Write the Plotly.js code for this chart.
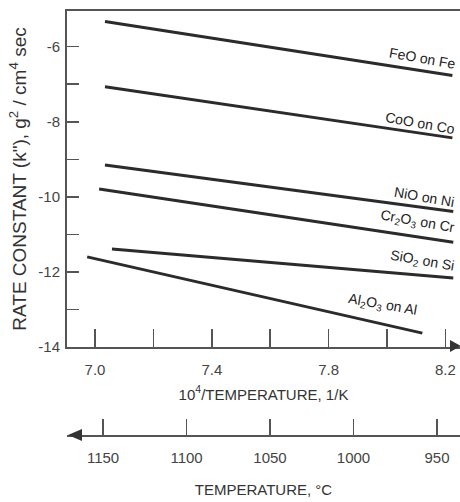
<!DOCTYPE html>
<html>
<head>
<meta charset="utf-8">
<script src="https://cdn.plot.ly/plotly-3.0.1.min.js"></script>
<style>html,body{margin:0;padding:0;background:#fff;}#chart{width:460px;height:502px;}</style>
</head>
<body>
<div id="chart"></div>
<script>
// Series (oxide on metal): straight lines, start/end points
const seriesNames = ['FeO on Fe', 'CoO on Co', 'NiO on Ni', 'Cr<sub>2</sub>O<sub>3</sub> on Cr', 'SiO<sub>2</sub> on Si', 'Al<sub>2</sub>O<sub>3</sub> on Al'];
const xStart = [7.034, 7.034, 7.034, 7.014, 7.058, 6.973];
const xEnd   = [8.224, 8.224, 8.227, 8.227, 8.227, 8.121];
const yStart = [-5.33, -7.07, -9.15, -9.79, -11.39, -11.6];
const yEnd   = [-6.77, -8.43, -10.39, -11.21, -12.16, -13.63];
// label anchor positions (data coords)
const labelX = [8.12, 8.113, 8.13, 8.106, 8.12, 7.986];
const labelY = [-6.29, -8.03, -10.0, -10.67, -11.71, -12.88];

// Axis ticks
const yTickVals = [-14, -13, -12, -11, -10, -9, -8, -7, -6];
const yTickText = ['-14', '', '-12', '', '-10', '', '-8', '', '-6'];
const xTickVals = [7.0, 7.2, 7.4, 7.6, 7.8, 8.0, 8.2];
const xTickText = ['7.0', '', '7.4', '', '7.8', '', '8.2'];
const tTickVals = [1150, 1100, 1050, 1000, 950];
const tTickText = ['1150', '1100', '1050', '1000', '950'];

const FONT = 'Liberation Sans, Arial, sans-serif';
const LINEC = '#2b2b2b';
const AXC = '#555';

const traces = seriesNames.map((n, i) => ({
  type: 'scatter', mode: 'lines',
  x: [xStart[i], xEnd[i]], y: [yStart[i], yEnd[i]],
  line: {color: LINEC, width: 3}, name: n, hoverinfo: 'skip',
  xaxis: 'x', yaxis: 'y'
}));
// invisible trace to create the second (temperature) axis
traces.push({type: 'scatter', mode: 'markers', x: [tTickVals[0]], y: [0], xaxis: 'x2', yaxis: 'y2',
  marker: {opacity: 0}, hoverinfo: 'skip', showlegend: false});

const annotations = seriesNames.map((n, i) => ({
  x: labelX[i], y: labelY[i], xref: 'x', yref: 'y', text: n, showarrow: false,
  textangle: 10, font: {family: FONT, size: 14, color: '#222'}
}));

const pX = px => (px - 67) / 393;
const pY = py => (435 - py) / 424;

const shapes = [
  {type: 'path', xref: 'paper', yref: 'paper', fillcolor: '#333', line: {width: 0},
   path: `M ${pX(461)},${pY(346)} L ${pX(450)},${pY(340)} L ${pX(450)},${pY(352)} Z`},
  {type: 'path', xref: 'paper', yref: 'paper', fillcolor: '#333', line: {width: 0},
   path: `M ${pX(68)},${pY(435)} L ${pX(82)},${pY(429)} L ${pX(82)},${pY(441)} Z`}
];

const layout = {
  width: 460, height: 502,
  margin: {l: 67, r: 0, t: 11, b: 67},
  paper_bgcolor: '#fff', plot_bgcolor: '#fff',
  showlegend: false,
  font: {family: FONT, color: '#333'},
  xaxis: {
    domain: [0, 1], anchor: 'y', range: [6.904, 8.25],
    tickvals: xTickVals, ticktext: xTickText,
    ticks: 'inside', ticklen: 18, tickwidth: 1.5, tickcolor: AXC,
    showline: true, linecolor: AXC, linewidth: 2, mirror: true,
    showgrid: false, zeroline: false,
    tickfont: {family: FONT, size: 15, color: '#444'}, ticklabelstandoff: 8,
    title: {text: '10<sup>4</sup>/TEMPERATURE, 1/K', font: {family: FONT, size: 15, color: '#333'}, standoff: 12}
  },
  yaxis: {
    domain: [88 / 424, 1], anchor: 'x', range: [-14, -5.05],
    tickvals: yTickVals, ticktext: yTickText,
    ticks: 'inside', ticklen: 12, tickwidth: 1.5, tickcolor: AXC,
    showline: true, linecolor: AXC, linewidth: 2,
    showgrid: false, zeroline: false,
    tickfont: {family: FONT, size: 15, color: '#444'}, ticklabelstandoff: 2,
    title: {text: 'RATE CONSTANT (k"), g<sup>2</sup> / cm<sup>4</sup> sec', font: {family: FONT, size: 19, color: '#333'}, standoff: 7}
  },
  xaxis2: {
    domain: [0, 1], anchor: 'y2', range: [1171.6, 936.2],
    tickvals: tTickVals, ticktext: tTickText,
    ticks: 'inside', ticklen: 16, tickwidth: 1.5, tickcolor: AXC,
    showline: true, linecolor: AXC, linewidth: 2,
    showgrid: false, zeroline: false,
    tickfont: {family: FONT, size: 15, color: '#444'}, ticklabelstandoff: 8,
    title: {text: 'TEMPERATURE, °C', font: {family: FONT, size: 15, color: '#333'}, standoff: 19}
  },
  yaxis2: {domain: [0, 0.001], anchor: 'x2', visible: false, range: [-1, 1]},
  annotations: annotations,
  shapes: shapes
};

Plotly.newPlot('chart', traces, layout, {displayModeBar: false, staticPlot: true});
</script>
</body>
</html>
